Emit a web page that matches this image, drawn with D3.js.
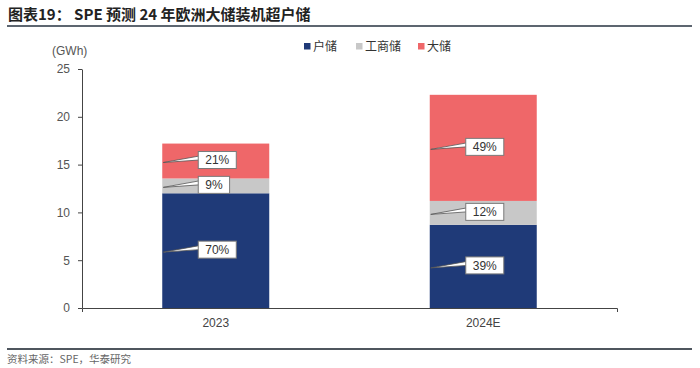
<!DOCTYPE html>
<html>
<head>
<meta charset="utf-8">
<script src="https://cdn.jsdelivr.net/npm/d3@7"></script>
<style>
  body { margin: 0; background: #fff; }
  svg { display: block; font-family: "Liberation Sans", Arial, sans-serif; }
</style>
</head>
<body>
<svg id="chart" width="700" height="368"></svg>
<script>
// данные (GWh)
const categories = ["2023", "2024E"]
const seriesNames = ["户储", "工商储", "大储"]
const seriesKeys = ["home", "ci", "utility"]
const homeValues = [12.0, 8.7]
const ciValues = [1.55, 2.5]
const utilityValues = [3.65, 11.1]
const homeShare = ["70%", "39%"]
const ciShare = ["9%", "12%"]
const utilityShare = ["21%", "49%"]
const yTicks = [0, 5, 10, 15, 20, 25]

const colors = { home: "#1f3a78", ci: "#c8c8c8", utility: "#ef6769" }
const cjk = "'Noto Sans CJK SC', 'Liberation Sans', sans-serif"

let rows = categories.map((c, i) => ({
    cat: c,
    home: homeValues[i],
    ci: ciValues[i],
    utility: utilityValues[i],
    share: { home: homeShare[i], ci: ciShare[i], utility: utilityShare[i] }
}))

let svg = d3.select("#chart")

const area = { left: 82, right: 617, top: 69, bottom: 308 }

// заголовок и линии
svg.append("text")
    .attr("x", 8).attr("y", 20)
    .style("font-family", cjk)
    .style("font-size", "15px")
    .style("font-weight", "bold")
    .style("fill", "#222")
    .text("图表19： SPE 预测 24 年欧洲大储装机超户储")

svg.append("line")
    .attr("x1", 7).attr("x2", 692).attr("y1", 26).attr("y2", 26)
    .style("stroke", "#5d6670").style("stroke-width", 2)

svg.append("line")
    .attr("x1", 7).attr("x2", 692).attr("y1", 349).attr("y2", 349)
    .style("stroke", "#4f565e").style("stroke-width", 2)

svg.append("text")
    .attr("x", 7).attr("y", 363)
    .style("font-family", cjk)
    .style("font-size", "10.5px")
    .style("fill", "#666")
    .text("资料来源：SPE，华泰研究")

// шкалы
let scX = d3.scaleBand()
    .domain(categories)
    .range([area.left, area.right])

let scY = d3.scaleLinear()
    .domain([0, 25])
    .range([area.bottom, area.top])

// оси
let gy = svg.append("g")
    .attr("transform", `translate(${area.left}, 0)`)
    .call(d3.axisLeft(scY).tickValues(yTicks).tickSize(4).tickSizeOuter(0).tickPadding(8))
gy.selectAll("text").style("font-size", "12px").style("fill", "#555")
gy.selectAll("line, path").style("stroke", "#444")

svg.append("text")
    .attr("x", 52).attr("y", 55)
    .style("font-size", "12px").style("fill", "#555")
    .text("(GWh)")

// столбцы
const barW = scX.bandwidth() * 0.4
let stacked = d3.stack().keys(seriesKeys)(rows)

stacked.forEach(layer => {
    svg.selectAll(".bar-" + layer.key)
        .data(layer)
        .enter()
        .append("rect")
        .attr("class", "bar-" + layer.key)
        .attr("x", d => scX(d.data.cat) + (scX.bandwidth() - barW) / 2)
        .attr("y", d => scY(d[1]))
        .attr("width", barW)
        .attr("height", d => scY(d[0]) - scY(d[1]))
        .style("fill", colors[layer.key])
})

let gx = svg.append("g")
    .attr("transform", `translate(0, ${area.bottom})`)
    .call(d3.axisBottom(scX).tickSizeInner(0).tickSizeOuter(4).tickPadding(10))
gx.selectAll("text").style("font-size", "12px").style("fill", "#444")
gx.selectAll("line, path").style("stroke", "#444")

// выноски с процентами
stacked.forEach(layer => {
    layer.forEach(d => {
        let x0 = scX(d.data.cat) + (scX.bandwidth() - barW) / 2
        let mid = (scY(d[0]) + scY(d[1])) / 2
        let boxL = x0 + 36
        let g = svg.append("g")
        let t = g.append("text")
            .attr("x", boxL + 7).attr("y", mid - 1)
            .attr("dy", "0.36em")
            .style("font-size", "12px").style("fill", "#333")
            .text(d.data.share[layer.key])
        let w = t.node().getComputedTextLength() + 14
        g.insert("rect", "text")
            .attr("x", boxL).attr("y", mid - 9.5)
            .attr("width", w).attr("height", 17)
            .style("fill", "#fff").style("stroke", "#7a7a7a").style("stroke-width", 1)
        g.insert("path", "rect")
            .attr("d", `M${x0 + 1},${mid + 1.5}L${boxL + 1},${mid - 5}L${boxL + 1},${mid - 1}Z`)
            .style("fill", "#fff").style("stroke", "#555").style("stroke-width", 0.8)
    })
})

// легенда
const legendX = [304, 356, 418]
seriesKeys.forEach((k, i) => {
    svg.append("rect")
        .attr("x", legendX[i]).attr("y", 43)
        .attr("width", 6.5).attr("height", 6.5)
        .style("fill", colors[k])
    svg.append("text")
        .attr("x", legendX[i] + 9).attr("y", 50.5)
        .style("font-family", cjk)
        .style("font-size", "12px").style("fill", "#333")
        .text(seriesNames[i])
})
</script>
</body>
</html>
